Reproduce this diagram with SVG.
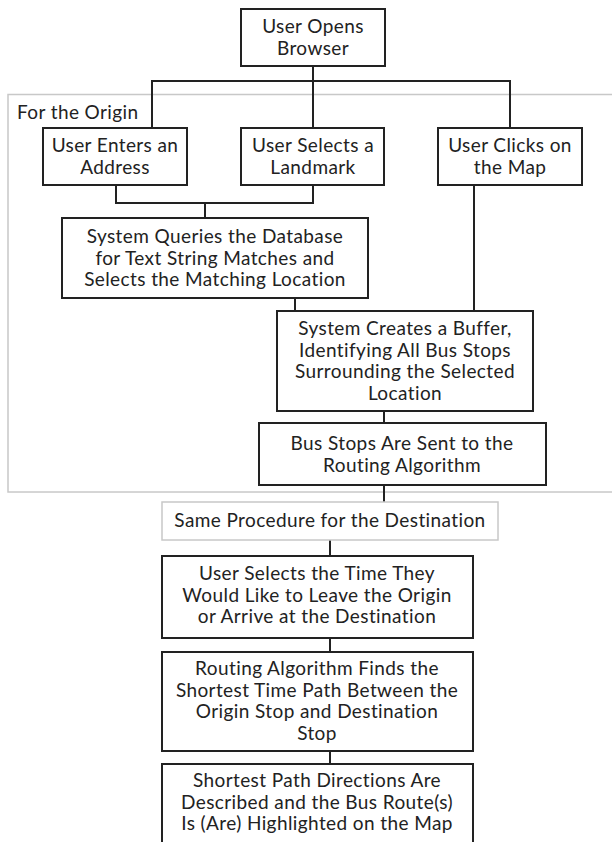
<svg xmlns="http://www.w3.org/2000/svg" width="612" height="842" viewBox="0 0 612 842">
<style>
.box{fill:#fff;stroke:#222;stroke-width:2}
.grp{fill:none;stroke:#c8c8c8;stroke-width:1.5}
.gbox{fill:#fff;stroke:#c8c8c8;stroke-width:1.5}
.con{fill:none;stroke:#222;stroke-width:2}
text{font-family:Lato,"Open Sans","Liberation Sans",sans-serif;font-size:19px;letter-spacing:0.4px;fill:#222;text-anchor:middle}
.lbl{text-anchor:start}
</style>
<rect fill="#fff" x="0" y="0" width="612" height="842"/>
<g id="origin-group">
<rect class="grp" x="8" y="94.5" width="620" height="397.5"/>
<text class="lbl" x="17" y="119">For the Origin</text>
</g>
<g id="connectors">
<path class="con" d="M313 66V128M152 128V81H510V128"/>
<path class="con" d="M116 185V203H313V185M205 203V218"/>
<path class="con" d="M474 185V311M295 298V311M384 411V423M384 485V502"/>
<path class="con" d="M330 540V556M330 638V652M330 751V764"/>
</g>
<g id="n1"><rect class="box" x="241" y="9" width="144" height="57"/>
<text x="313" y="33">User Opens</text><text x="313" y="55">Browser</text></g>
<g id="n2"><rect class="box" x="43" y="128" width="144" height="57"/>
<text x="115" y="152">User Enters an</text><text x="115" y="173.5">Address</text></g>
<g id="n3"><rect class="box" x="241" y="128" width="143" height="57"/>
<text x="313" y="152">User Selects a</text><text x="313" y="173.5">Landmark</text></g>
<g id="n4"><rect class="box" x="438" y="128" width="144" height="57"/>
<text x="510" y="152">User Clicks on</text><text x="510" y="173.5">the Map</text></g>
<g id="n5"><rect class="box" x="62" y="218" width="306" height="80"/>
<text x="215" y="243">System Queries the Database</text><text x="215" y="264.5">for Text String Matches and</text><text x="215" y="286">Selects the Matching Location</text></g>
<g id="n6"><rect class="box" x="277" y="311" width="256" height="100"/>
<text x="405" y="335">System Creates a Buffer,</text><text x="405" y="356.5">Identifying All Bus Stops</text><text x="405" y="378">Surrounding the Selected</text><text x="405" y="399.5">Location</text></g>
<g id="n7"><rect class="box" x="259" y="423" width="287" height="62"/>
<text x="402" y="450">Bus Stops Are Sent to the</text><text x="402" y="471.5">Routing Algorithm</text></g>
<g id="n8"><rect class="gbox" x="162" y="502" width="336" height="38"/>
<text x="330" y="527">Same Procedure for the Destination</text></g>
<g id="n9"><rect class="box" x="162" y="556" width="311" height="82"/>
<text x="317" y="580">User Selects the Time They</text><text x="317" y="601.5">Would Like to Leave the Origin</text><text x="317" y="623">or Arrive at the Destination</text></g>
<g id="n10"><rect class="box" x="162" y="652" width="311" height="99"/>
<text x="317" y="675">Routing Algorithm Finds the</text><text x="317" y="696.5">Shortest Time Path Between the</text><text x="317" y="718">Origin Stop and Destination</text><text x="317" y="739.5">Stop</text></g>
<g id="n11"><rect class="box" x="162" y="764" width="311" height="100"/>
<text x="317" y="787">Shortest Path Directions Are</text><text x="317" y="808.5">Described and the Bus Route(s)</text><text x="317" y="830">Is (Are) Highlighted on the Map</text></g>
</svg>
